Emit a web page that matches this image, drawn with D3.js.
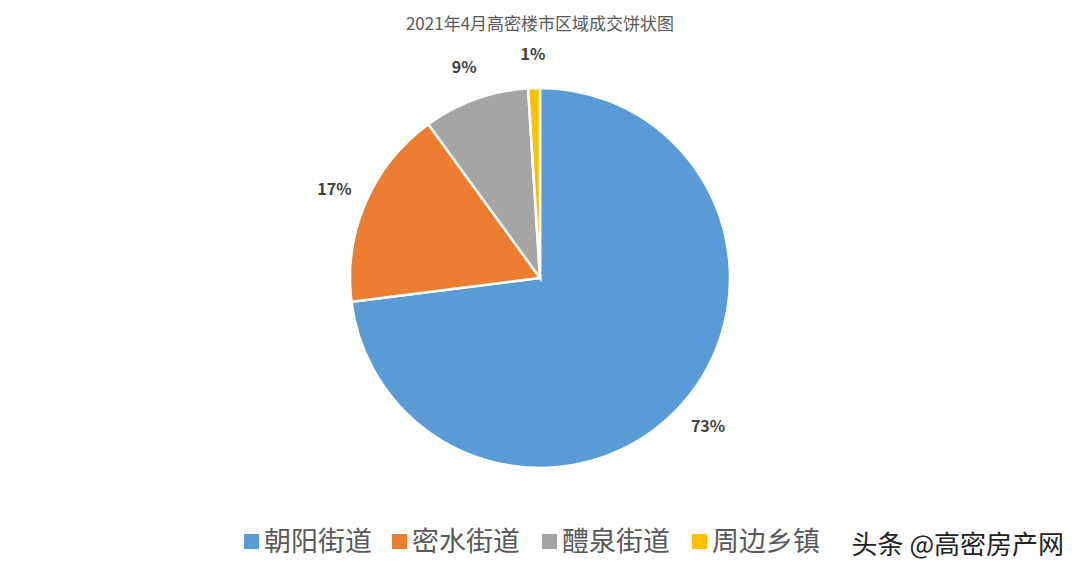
<!DOCTYPE html>
<html><head><meta charset="utf-8">
<script src="https://cdn.jsdelivr.net/npm/d3@7/dist/d3.min.js"></script>
<style>body{margin:0;background:#fff}svg{display:block}</style>
</head><body><svg width="1080" height="578"></svg>
<script>
let categories = ["朝阳街道", "密水街道", "醴泉街道", "周边乡镇"];
let values = [73, 17, 9, 1];
let colors = ["#5b9bd5", "#ed7d31", "#a5a5a5", "#ffc000"];

let svg = d3.select("svg");
let font = "'Noto Sans CJK SC', 'Noto Sans', sans-serif";

// title
svg.append("text").attr("x", 540).attr("y", 30).attr("text-anchor", "middle")
    .style("font-family", font).style("font-size", "17px").style("fill", "#595959")
    .text("2021年4月高密楼市区域成交饼状图");

let cx = 540, cy = 278, r = 190;
let pie = d3.pie().sort(null).value(d => d)(values);
let arc = d3.arc().innerRadius(0).outerRadius(r);
let labelArc = d3.arc().innerRadius(224).outerRadius(224);

let g = svg.append("g").attr("transform", `translate(${cx},${cy})`);
g.selectAll("path").data(pie).join("path")
    .attr("d", arc)
    .style("fill", (d, i) => colors[i])
    .style("stroke", "#fff").style("stroke-width", 2.5);

g.selectAll("text").data(pie).join("text")
    .attr("transform", d => `translate(${labelArc.centroid(d)})`)
    .attr("text-anchor", "middle").attr("dy", "0.35em")
    .style("font-family", font).style("font-size", "16px").style("font-weight", "bold")
    .style("fill", "#404040")
    .text(d => d.data + "%");

// legend
let legendX = [244, 392, 542, 692];
let legend = svg.append("g").selectAll("g").data(categories).join("g")
    .attr("transform", (d, i) => `translate(${legendX[i]},542)`);
legend.append("rect").attr("x", 0).attr("y", -8).attr("width", 15).attr("height", 15)
    .style("fill", (d, i) => colors[i]);
legend.append("text").attr("x", 20).attr("dy", "0.35em")
    .style("font-family", font).style("font-size", "27px").style("fill", "#595959")
    .text(d => d);

// corner watermark
svg.append("text").attr("x", 1064).attr("y", 554).attr("text-anchor", "end")
    .style("font-family", font).style("font-size", "26px").style("fill", "#222")
    .style("paint-order", "stroke").style("stroke", "#fff").style("stroke-width", 3)
    .text("头条 @高密房产网");
</script></body></html>
